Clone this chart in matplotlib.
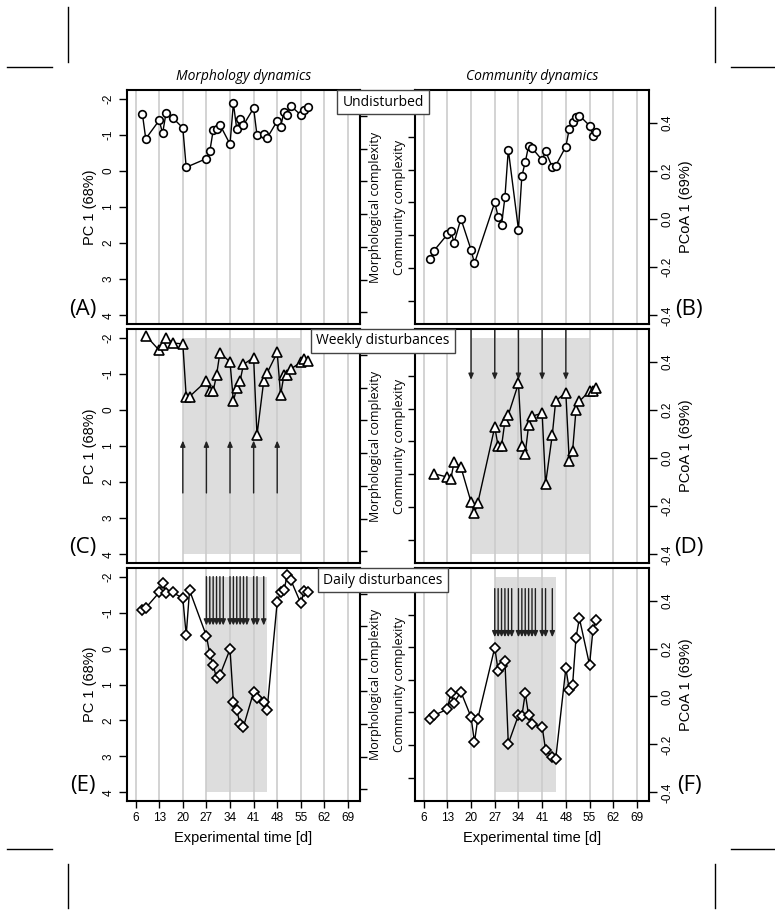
import matplotlib
matplotlib.use('Agg')
import matplotlib.pyplot as plt
from matplotlib.lines import Line2D
from matplotlib.patches import Rectangle

# sampling days
daysA = [8, 9, 13, 14, 15, 17, 20, 21, 27, 28, 29, 30, 31, 34, 35, 36, 37, 38,
         41, 42, 44, 45, 48, 49, 50, 51, 52, 55, 56, 57]
daysC = [9, 13, 14, 15, 17, 20, 21, 22, 27, 28, 29, 30, 31, 34, 35, 36, 37, 38,
         41, 42, 44, 45, 48, 49, 50, 51, 52, 55, 56, 57]
daysE = [8, 9, 13, 14, 15, 17, 20, 21, 22, 27, 28, 29, 30, 31, 34, 35, 36, 37, 38,
         41, 42, 44, 45, 48, 49, 50, 51, 52, 55, 56, 57]

# PC 1 (morphology)
morphA = [-1.58, -0.89, -1.40, -1.04, -1.59, -1.47, -1.19, -0.10, -0.34, -0.54,
          -1.12, -1.17, -1.28, -0.74, -1.87, -1.16, -1.45, -1.27, -1.74, -0.99,
          -1.03, -0.91, -1.38, -1.22, -1.63, -1.54, -1.80, -1.55, -1.68, -1.77]
morphC = [-2.06, -1.65, -1.81, -2.00, -1.85, -1.83, -0.37, -0.37, -0.80, -0.52,
          -0.52, -0.96, -1.58, -1.33, -0.24, -0.62, -0.81, -1.26, -1.45, 0.70,
          -0.80, -1.02, -1.59, -0.41, -0.96, -0.96, -1.13, -1.32, -1.41, -1.36]
morphE = [-1.06, -1.13, -1.56, -1.83, -1.54, -1.56, -1.40, -0.37, -1.62, -0.35,
          0.15, 0.45, 0.83, 0.74, 0.02, 1.48, 1.72, 2.10, 2.17, 1.21, 1.38, 1.48,
          1.70, -1.30, -1.56, -1.62, -2.05, -1.91, -1.26, -1.59, -1.56]

# PCoA 1 (community)
commB = [-0.166, -0.132, -0.064, -0.049, -0.098, 0.001, -0.128, -0.184, 0.069,
         0.010, -0.024, 0.090, 0.288, -0.044, 0.178, 0.236, 0.304, 0.295, 0.245,
         0.282, 0.215, 0.222, 0.301, 0.374, 0.405, 0.422, 0.430, 0.388, 0.347,
         0.363]
commD = [-0.065, -0.079, -0.088, -0.017, -0.038, -0.183, -0.229, -0.186, 0.129,
         0.049, 0.049, 0.153, 0.179, 0.310, 0.049, 0.018, 0.136, 0.174, 0.186,
         -0.108, 0.097, 0.238, 0.271, -0.014, 0.031, 0.201, 0.236, 0.278, 0.278,
         0.292]
commF = [-0.093, -0.079, -0.053, 0.015, -0.026, 0.019, -0.086, -0.190, -0.092,
         0.204, 0.108, 0.126, 0.150, -0.197, -0.078, -0.083, 0.014, -0.078,
         -0.114, -0.126, -0.222, -0.253, -0.260, 0.118, 0.029, 0.050, 0.246,
         0.326, 0.132, 0.278, 0.319]

weeklyDays = [20, 27, 34, 41, 48]
dailyDays = [27, 28, 29, 30, 31, 32, 34, 35, 36, 37, 38, 39, 41, 42, 44]
xticks = [6, 13, 20, 27, 34, 41, 48, 55, 62, 69]
pcTicks = [-2, -1, 0, 1, 2, 3, 4]
pcoaTicks = [-0.4, -0.2, 0.0, 0.2, 0.4]
pcoaTickLabels = ['-0.4', '-0.2', '0.0', '0.2', '0.4']

W, H = 775.0, 917.0
humanist = 'Open Sans'
arial = 'Liberation Sans'


def rect(x0, y0, x1, y1):
    return [x0 / W, 1 - y1 / H, (x1 - x0) / W, (y1 - y0) / H]


def basePanel(ax, days, vals, marker, ms, shade, arrows, bottomRow):
    ax.set_xlim(3.44, 72.56)
    for t in xticks:
        ax.axvline(t, color='#cccccc', lw=1.2, zorder=1)
    ax.add_patch(Rectangle((shade[0], shade[2]), shade[1] - shade[0], shade[3] - shade[2],
                           facecolor='#dddddd', edgecolor='none', zorder=0.5))
    for x in arrows[0]:
        ax.annotate('', xy=(x, arrows[2]), xytext=(x, arrows[1]),
                    arrowprops=dict(arrowstyle='-|>,head_length=0.35,head_width=0.15',
                                    color='#222222', lw=1.0, shrinkA=0, shrinkB=0),
                    zorder=2, annotation_clip=False)
    ax.plot(days, vals, color='black', lw=1.0, marker=marker, ms=ms, mfc='white',
            mec='black', mew=1.2, zorder=3)
    for s in ax.spines.values():
        s.set_linewidth(1.5)
    if bottomRow:
        ax.set_xticks(xticks)
        ax.set_xticklabels([str(t) for t in xticks], fontfamily=arial, fontsize=8.5)
        ax.tick_params(axis='x', length=5, width=1, pad=3)
        ax.set_xlabel('Experimental time [d]', fontfamily=arial, fontsize=10.5, labelpad=5)
    else:
        ax.set_xticks([])


fig = plt.figure(figsize=(W / 100, H / 100), dpi=100)

rows = [(90, 324), (329, 563), (568, 801)]
leftData = [(daysA, morphA, 'o', 5.5, (0, 0, 0, 0), ([], 0, 0)),
            (daysC, morphC, '^', 6.5, (20, 55, -2, 4), (weeklyDays, 2.3, 0.85)),
            (daysE, morphE, 'D', 5.0, (27, 45, -2, 4), (dailyDays, -2.0, -0.64))]
rightData = [(daysA, commB, 'o', 5.5, (0, 0, 0, 0), ([], 0, 0)),
             (daysC, commD, '^', 6.5, (20, 55, -0.4, 0.5), (weeklyDays, 0.536, 0.325)),
             (daysE, commF, 'D', 5.0, (27, 45, -0.4, 0.5), (dailyDays, 0.45, 0.247))]
letters = [('(A)', '(B)'), ('(C)', '(D)'), ('(E)', '(F)')]
strips = ['Undisturbed', 'Weekly disturbances', 'Daily disturbances']
morphFrac = [0.05, 0.19, 0.33, 0.47, 0.61, 0.75, 0.89]
commFrac = [0.10, 0.24, 0.38, 0.52, 0.66, 0.80]

for i, (top, bot) in enumerate(rows):
    last = (i == 2)
    # morphology panel
    axL = fig.add_axes(rect(127, top, 360, bot))
    tw = axL.twinx()
    d, v, m, ms, sh, ar = leftData[i]
    basePanel(axL, d, v, m, ms, sh, ar, last)
    axL.set_ylim(4.24, -2.24)
    axL.yaxis.tick_left()
    axL.set_yticks(pcTicks)
    axL.set_yticklabels([str(t) for t in pcTicks], fontfamily=arial, fontsize=8.5,
                        rotation=90, va='center')
    axL.tick_params(axis='y', length=6, width=1, pad=3)
    axL.text(-0.158, 0.5, 'PC 1 (68%)', transform=axL.transAxes, rotation=90,
             ha='center', va='center', fontfamily=arial, fontsize=10.5)
    tw.set_ylim(0, 1)
    tw.yaxis.tick_right()
    tw.set_yticks(morphFrac)
    tw.tick_params(axis='y', length=5, width=1, labelright=False, labelleft=False)
    for s in tw.spines.values():
        s.set_visible(False)
    fig.text(376 / W, 1 - ((top + bot) / 2) / H, 'Morphological complexity', rotation=90,
             ha='center', va='center', fontfamily=humanist, fontsize=9)
    fig.text(83 / W, 1 - (bot - 15) / H, letters[i][0], ha='center', va='center',
             fontfamily=humanist, fontsize=16)

    # community panel
    axR = fig.add_axes(rect(415, top, 649, bot))
    tw2 = axR.twinx()
    d, v, m, ms, sh, ar = rightData[i]
    basePanel(axR, d, v, m, ms, sh, ar, last)
    axR.set_ylim(-0.436, 0.536)
    axR.yaxis.tick_right()
    axR.set_yticks(pcoaTicks)
    axR.set_yticklabels(pcoaTickLabels, fontfamily=arial, fontsize=8.5, rotation=90,
                        va='center')
    axR.tick_params(axis='y', length=6, width=1, pad=3, labelright=True, labelleft=False)
    axR.text(1.158, 0.5, 'PCoA 1 (69%)', transform=axR.transAxes, rotation=90,
             ha='center', va='center', fontfamily=arial, fontsize=10.5)
    tw2.set_ylim(0, 1)
    tw2.yaxis.tick_left()
    tw2.set_yticks(commFrac)
    tw2.tick_params(axis='y', length=5, width=1, labelleft=False, labelright=False)
    for s in tw2.spines.values():
        s.set_visible(False)
    fig.text(400 / W, 1 - ((top + bot) / 2) / H, 'Community complexity', rotation=90,
             ha='center', va='center', fontfamily=humanist, fontsize=9)
    fig.text(689 / W, 1 - (bot - 15) / H, letters[i][1], ha='center', va='center',
             fontfamily=humanist, fontsize=16)

    # condition label box
    fig.text(383 / W, 1 - (top + 12) / H, strips[i], ha='center', va='center',
             fontfamily=humanist, fontsize=10, zorder=10,
             bbox=dict(boxstyle='square,pad=0.35', facecolor='white',
                       edgecolor='#444444', lw=1.0))

fig.text(244 / W, 1 - 76 / H, 'Morphology dynamics', ha='center', va='center',
         fontfamily=humanist, fontstyle='italic', fontsize=10)
fig.text(532 / W, 1 - 76 / H, 'Community dynamics', ha='center', va='center',
         fontfamily=humanist, fontstyle='italic', fontsize=10)

# crop marks
marks = [((68, 7), (68, 62)), ((7, 67), (52, 67)),
         ((715, 7), (715, 62)), ((731, 67), (775, 67)),
         ((7, 849), (52, 849)), ((68, 864), (68, 908)),
         ((731, 849), (775, 849)), ((715, 864), (715, 908))]
for (x0, y0), (x1, y1) in marks:
    fig.add_artist(Line2D([x0 / W, x1 / W], [1 - y0 / H, 1 - y1 / H],
                          transform=fig.transFigure, color='black', lw=1.0))

fig.savefig('out.png', dpi=100)
